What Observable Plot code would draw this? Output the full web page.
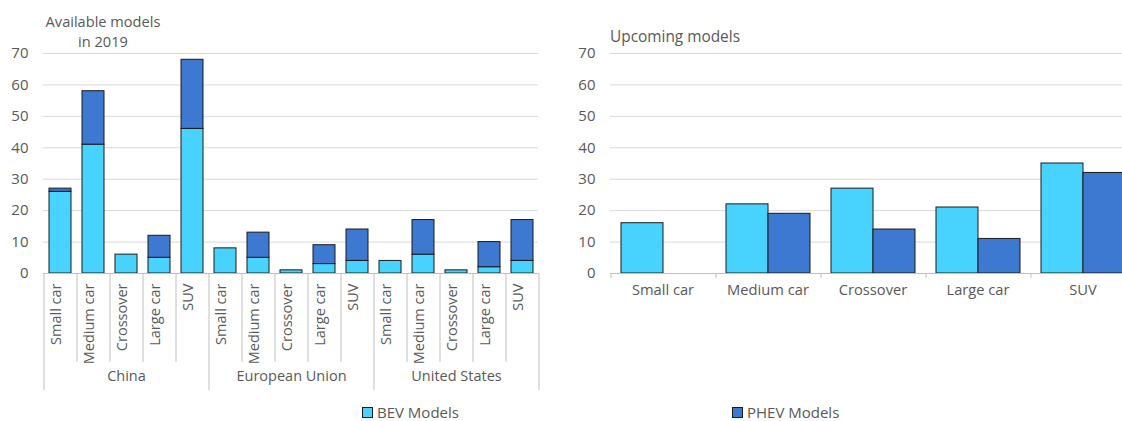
<!DOCTYPE html>
<html>
<head>
<meta charset="utf-8">
<script src="https://cdn.jsdelivr.net/npm/d3@7"></script>
<script src="https://cdn.jsdelivr.net/npm/@observablehq/plot@0.6"></script>
<style>
  html, body { margin: 0; padding: 0; background: #fff; overflow: hidden; }
  #wrap { position: relative; width: 1122px; height: 421px; overflow: hidden; font-family: 'Open Sans', sans-serif; color: #595959; }
  #left, #right { position: absolute; top: 0; }
  #left { left: 0; }
  #right { left: 560px; width: 575px; }
  #wrap svg { max-width: none !important; }
  .title { position: absolute; font-size: 14.6px; line-height: 20px; color: #595959; }
  .legend { position: absolute; top: 404px; height: 16px; font-size: 15px; line-height: 16px; display: flex; align-items: center; color: #595959; }
  .legend .sw { width: 9px; height: 9px; border: 1px solid #1a1a1a; margin-right: 4px; }
</style>
</head>
<body>
<div id="wrap">
  <div id="left"></div>
  <div id="right"></div>
  <div class="title" style="left:41px; top:11px; width:124px; text-align:center;">Available models<br>in 2019</div>
  <div class="title" style="left:610px; top:27px; font-size:15.4px;">Upcoming models</div>
  <div class="legend" id="leg1" style="left:362px;"></div>
  <div class="legend" id="leg2" style="left:732px;"></div>
</div>
<script>
// ---- data ----
const regions = ["China", "European Union", "United States"];
const carTypes = ["Small car", "Medium car", "Crossover", "Large car", "SUV"];
const seriesNames = ["BEV Models", "PHEV Models"];
const seriesColors = ["#48D3FF", "#3D78D1"];
// Available models in 2019, ordered region by region, car type by car type
const bevAvailable  = [26, 41, 6, 5, 46,   8, 5, 1, 3, 4,   4, 6, 1, 2, 4];
const phevAvailable = [ 1, 17, 0, 7, 22,   0, 8, 0, 6, 10,  0, 11, 0, 8, 13];
// Upcoming models by car type
const bevUpcoming  = [16, 22, 27, 21, 35];
const phevUpcoming = [ 0, 19, 14, 11, 32];
const yTicks = [0, 10, 20, 30, 40, 50, 60, 70];

const textColor = "#595959";
const gridColor = "#d9d9d9";
const axisColor = "#bfbfbf";
const barStroke = "#1a1a1a";
const font = "'Open Sans', sans-serif";

// ---- build tables ----
const keys = [];
const avail = [];
regions.forEach((r, ri) => carTypes.forEach((t, ti) => {
  const i = ri * carTypes.length + ti;
  const key = r + "|" + t;
  keys.push({key, region: r, type: t, first: ti === 0});
  avail.push({key, series: seriesNames[0], value: bevAvailable[i]});
  avail.push({key, series: seriesNames[1], value: phevAvailable[i]});
}));
const availBars = avail.filter(d => d.value > 0);
const groupLabels = regions.map(r => ({key: r + "|" + carTypes[2], region: r}));
const innerSeps = keys.filter(d => !d.first);
const groupSeps = keys.filter(d => d.first);
const lastKey = keys[keys.length - 1];

const upcoming = [];
carTypes.forEach((t, i) => {
  upcoming.push({type: t, series: seriesNames[0], value: bevUpcoming[i]});
  upcoming.push({type: t, series: seriesNames[1], value: phevUpcoming[i]});
});
const upcomingBars = upcoming.filter(d => d.value > 0);

const color = {domain: seriesNames, range: seriesColors};
const frameH = 220;

// ---- left chart ----
const left = Plot.plot({
  width: 545, height: 400,
  marginLeft: 43, marginRight: 7, marginTop: 53, marginBottom: 127,
  style: {fontFamily: font, fontSize: "14px", color: textColor, background: "transparent", overflow: "visible"},
  x: {domain: keys.map(d => d.key), paddingInner: 1/3, paddingOuter: 1/6, axis: null},
  y: {domain: [0, 70], axis: null},
  color,
  marks: [
    Plot.gridY(yTicks.slice(1), {stroke: gridColor, strokeOpacity: 1}),
    Plot.axisY(yTicks, {tickSize: 0, tickPadding: 15, label: null, fontSize: 15}),
    Plot.barY(availBars, {x: "key", y: "value", fill: "series", stroke: barStroke, strokeWidth: 1}),
    Plot.ruleY([0], {stroke: axisColor, strokeWidth: 1}),
    Plot.ruleX(innerSeps, {x: "key", dx: -16.5, stroke: axisColor, insetTop: frameH, insetBottom: -89}),
    Plot.ruleX(groupSeps, {x: "key", dx: -16.5, stroke: axisColor, insetTop: frameH, insetBottom: -117}),
    Plot.ruleX([lastKey], {x: "key", dx: 16.5, stroke: axisColor, insetTop: frameH, insetBottom: -117}),
    Plot.text(keys, {x: "key", text: "type", rotate: -90, textAnchor: "end", frameAnchor: "bottom", dy: 10, fill: textColor, fontSize: 14.5}),
    Plot.text(groupLabels, {x: "key", text: "region", frameAnchor: "bottom", dy: 107, fill: textColor, fontSize: 14.5})
  ]
});
document.getElementById("left").appendChild(left);

// ---- right chart ----
const right = Plot.plot({
  width: 575, height: 310,
  marginLeft: 50, marginRight: 0, marginTop: 53, marginBottom: 37,
  style: {fontFamily: font, fontSize: "14px", color: textColor, background: "transparent", overflow: "visible"},
  fx: {domain: carTypes, padding: 0, label: null, axis: null},
  x: {domain: seriesNames, paddingInner: 0, paddingOuter: 0.25, axis: null},
  y: {domain: [0, 70], axis: null},
  color,
  marks: [
    Plot.gridY(yTicks.slice(1), {stroke: gridColor, strokeOpacity: 1}),
    Plot.axisY(yTicks, {tickSize: 0, tickPadding: 15, label: null, fontSize: 15, facetAnchor: "left"}),
    Plot.axisFx({anchor: "bottom", tickSize: 0, tickPadding: 11, label: null, fontSize: 14.7}),
    Plot.barY(upcomingBars, {fx: "type", x: "series", y: "value", fill: "series", stroke: barStroke, strokeWidth: 1}),
    Plot.ruleY([0], {stroke: axisColor, strokeWidth: 1}),
    Plot.ruleX([seriesNames[0]], {x: d => d, dx: -31.5, stroke: axisColor, insetTop: frameH, insetBottom: -5})
  ]
});
document.getElementById("right").appendChild(right);

// ---- legend ----
[["leg1", 0], ["leg2", 1]].forEach(([id, i]) => {
  const el = document.getElementById(id);
  const sw = document.createElement("div");
  sw.className = "sw";
  sw.style.background = seriesColors[i];
  const label = document.createElement("span");
  label.textContent = seriesNames[i];
  el.appendChild(sw);
  el.appendChild(label);
});
</script>
</body>
</html>
